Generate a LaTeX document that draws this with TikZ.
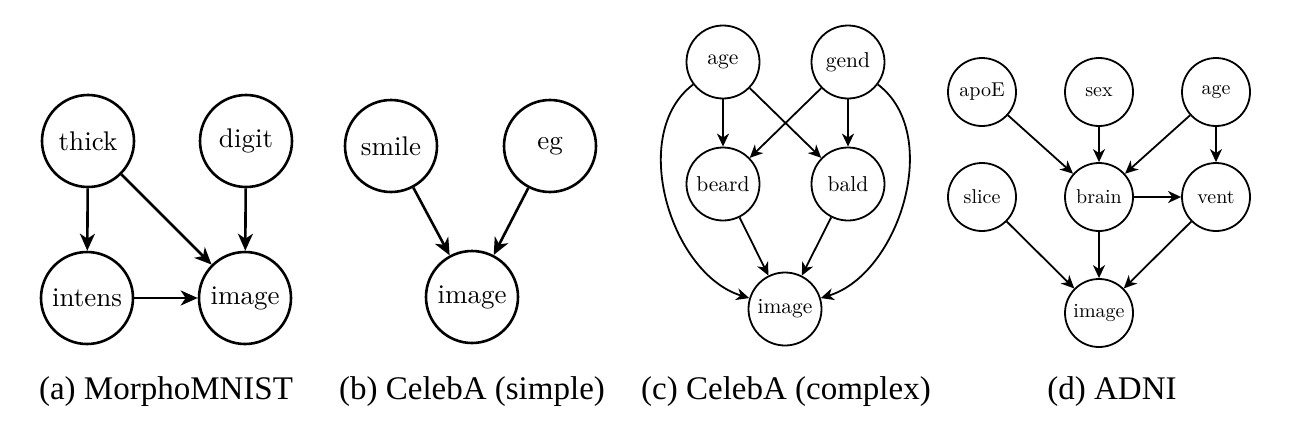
\documentclass[tikz,border=0pt]{standalone}
\usepackage{fontspec}
\setmainfont{lmroman10-regular}[Extension=.otf]
\newfontfamily\capfont{Liberation Serif}
\usetikzlibrary{arrows.meta}
\begin{document}
\begin{tikzpicture}[x=1pt,y=1pt,
  nA/.style={circle,draw,line width=2.6pt,minimum size=92pt,inner sep=0pt,font=\fontsize{27}{30}\selectfont},
  nC/.style={circle,draw,line width=1.8pt,minimum size=73pt,inner sep=0pt,font=\fontsize{21.5}{26}\selectfont},
  nD/.style={circle,draw,line width=1.8pt,minimum size=68pt,inner sep=0pt,font=\fontsize{20}{24}\selectfont},
  eA/.style={-{Stealth[length=17pt,width=15pt,inset=5pt]},line width=2.6pt},
  eC/.style={-{Stealth[length=13pt,width=12pt,inset=4pt]},line width=1.8pt},
  captext/.style={font=\capfont\fontsize{33}{36}\selectfont,inner sep=0pt}]
\useasboundingbox (0,0) rectangle (1293,-423);
% (a)
\node[nA] (thick) at (88,-141) {thick};
\node[nA] (digit) at (246,-141) {digit};
\node[nA] (intens) at (87,-298) {intens};
\node[nA] (imageA) at (245,-298) {image};
\draw[eA] (thick) -- (intens);
\draw[eA] (thick) -- (imageA);
\draw[eA] (digit) -- (imageA);
\draw[eA] (intens) -- (imageA);
\node[captext] (capA) at (166,-392) {(a) MorphoMNIST};
% (b)
\node[nA] (smile) at (391,-146) {smile};
\node[nA] (eg) at (550,-146) {eg};
\node[nA] (imageB) at (472,-297) {image};
\draw[eA] (smile) -- (imageB);
\draw[eA] (eg) -- (imageB);
\node[captext] (capB) at (472,-392) {(b) CelebA (simple)};
% (c)
\node[nC] (ageC) at (723,-62) {age};
\node[nC] (gend) at (848,-62) {gend};
\node[nC] (beard) at (723,-184) {beard};
\node[nC] (bald) at (848,-184) {bald};
\node[nC] (imageC) at (785,-309) {image};
\draw[eC] (ageC) -- (beard);
\draw[eC] (ageC) -- (bald);
\draw[eC] (gend) -- (beard);
\draw[eC] (gend) -- (bald);
\draw[eC] (beard) -- (imageC);
\draw[eC] (bald) -- (imageC);
\draw[eC] (ageC) to[out=-143,in=163,looseness=0.95] (imageC);
\draw[eC] (gend) to[out=-37,in=17,looseness=0.95] (imageC);
\node[captext] (capC) at (786,-392) {(c) CelebA (complex)};
% (d)
\node[nD] (apoE) at (982,-92) {apoE};
\node[nD] (sex) at (1099,-92) {sex};
\node[nD] (ageD) at (1216,-92) {age};
\node[nD] (slice) at (982,-197) {slice};
\node[nD] (brain) at (1099,-197) {brain};
\node[nD] (vent) at (1216,-197) {vent};
\node[nD] (imageD) at (1099,-313) {image};
\draw[eC] (apoE) -- (brain);
\draw[eC] (sex) -- (brain);
\draw[eC] (ageD) -- (brain);
\draw[eC] (ageD) -- (vent);
\draw[eC] (brain) -- (vent);
\draw[eC] (slice) -- (imageD);
\draw[eC] (brain) -- (imageD);
\draw[eC] (vent) -- (imageD);
\node[captext] (capD) at (1112,-392) {(d) ADNI};
\end{tikzpicture}
\end{document}
